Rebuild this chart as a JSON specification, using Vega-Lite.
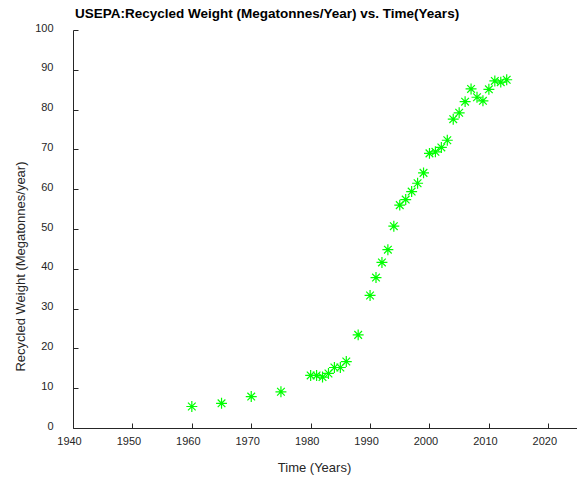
{
  "$schema": "https://vega.github.io/schema/vega-lite/v6.json",
  "autosize": {"type": "none"},
  "width": 505,
  "height": 398,
  "padding": {"left": 73, "top": 30, "right": 0, "bottom": 49},
  "background": "white",
  "config": {
    "view": {"stroke": null},
    "font": "Liberation Sans",
    "axis": {"grid": false, "domainColor": "#262626", "tickColor": "#262626", "labelColor": "#262626", "titleColor": "#262626", "labelFont": "Liberation Sans", "titleFont": "Liberation Sans", "titleFontWeight": "normal", "labelFontSize": 11, "titleFontSize": 13, "tickSize": -5, "domainWidth": 1, "labelFlush": false}
  },
  "title": {"text": "USEPA:Recycled Weight (Megatonnes/Year) vs. Time(Years)", "anchor": "start", "frame": "group", "offset": 2, "fontSize": 13.5, "fontWeight": "bold", "font": "Liberation Sans", "color": "#000000", "dx": 2},
  "data": {"values": [
    {"year": 1960, "w": 5.4},
    {"year": 1965, "w": 6.2},
    {"year": 1970, "w": 7.9},
    {"year": 1975, "w": 9.1},
    {"year": 1980, "w": 13.2},
    {"year": 1981, "w": 13.2},
    {"year": 1982, "w": 12.8},
    {"year": 1983, "w": 13.7},
    {"year": 1984, "w": 15.2},
    {"year": 1985, "w": 15.2},
    {"year": 1986, "w": 16.7},
    {"year": 1988, "w": 23.4},
    {"year": 1990, "w": 33.3},
    {"year": 1991, "w": 37.8},
    {"year": 1992, "w": 41.6},
    {"year": 1993, "w": 44.8},
    {"year": 1994, "w": 50.7},
    {"year": 1995, "w": 56.0},
    {"year": 1996, "w": 57.4},
    {"year": 1997, "w": 59.4},
    {"year": 1998, "w": 61.5},
    {"year": 1999, "w": 64.1},
    {"year": 2000, "w": 69.0},
    {"year": 2001, "w": 69.4},
    {"year": 2002, "w": 70.5},
    {"year": 2003, "w": 72.3},
    {"year": 2004, "w": 77.6},
    {"year": 2005, "w": 79.2},
    {"year": 2006, "w": 82.0},
    {"year": 2007, "w": 85.2},
    {"year": 2008, "w": 83.1},
    {"year": 2009, "w": 82.2},
    {"year": 2010, "w": 85.1},
    {"year": 2011, "w": 87.2},
    {"year": 2012, "w": 86.9},
    {"year": 2013, "w": 87.5}
  ]},
  "mark": {"type": "point", "shape": "M-1,0L1,0M0,-1L0,1M-0.7,-0.7L0.7,0.7M-0.7,0.7L0.7,-0.7", "filled": false, "stroke": "#00ff00", "strokeWidth": 1.2, "size": 120, "opacity": 1},
  "encoding": {
    "x": {"field": "year", "type": "quantitative", "scale": {"domain": [1940, 2025], "nice": false, "zero": false}, "axis": {"values": [1940, 1950, 1960, 1970, 1980, 1990, 2000, 2010, 2020], "format": "d", "title": "Time (Years)", "labelPadding": 12, "labelOffset": -4, "titlePadding": 15, "titleX": 241}},
    "y": {"field": "w", "type": "quantitative", "scale": {"domain": [0, 100], "nice": false}, "axis": {"values": [0, 10, 20, 30, 40, 50, 60, 70, 80, 90, 100], "title": "Recycled Weight (Megatonnes/year)", "labelPadding": 25, "labelOffset": -2, "titlePadding": 7, "titleY": 236}}
  }
}
